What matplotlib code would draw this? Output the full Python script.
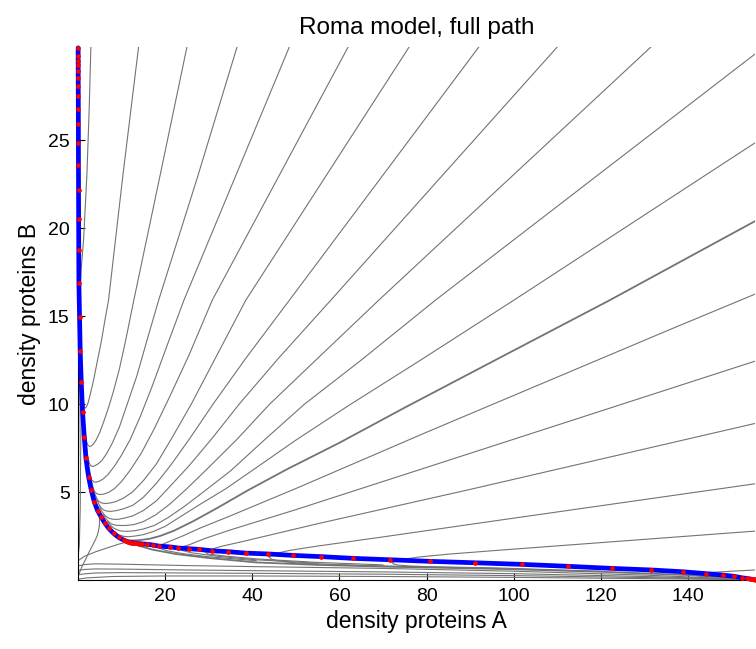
import matplotlib
matplotlib.use("Agg")
import matplotlib.pyplot as plt

plt.rcParams['font.family'] = ['Liberation Sans', 'DejaVu Sans']

# ---- transition path (string nodes) -------------------------------------
path_a = [0.03, 0.03, 0.03, 0.04, 0.04, 0.05, 0.05, 0.06, 0.07, 0.08, 0.09, 0.10,
          0.12, 0.14, 0.17, 0.20, 0.35, 0.50, 0.74, 1.04, 1.43, 1.82, 2.42, 3.04,
          3.73, 4.50, 5.28, 6.10, 7.03, 8.18, 9.33, 10.5, 11.0, 11.4, 11.8, 12.2,
          12.6, 13.0, 13.5, 14.1, 14.8, 15.9, 17.2, 18.5, 21.2, 23.0, 25.5, 27.8,
          30.8, 34.5, 38.5, 43.7, 49.3, 55.7, 63.2, 71.7, 80.9, 91.1, 101.8, 112.4,
          122.6, 131.6, 138.8, 144.2, 148.0, 150.6, 152.3, 153.5, 154.3, 154.8, 155.1,
          155.3]
path_b = [30.25, 29.8, 29.5, 29.26, 28.94, 28.56, 28.1, 27.5, 26.76, 25.9, 24.85, 23.6,
          22.16, 20.55, 18.75, 16.9, 14.96, 13.03, 11.27, 9.56, 8.14, 6.91, 5.87, 5.11,
          4.45, 3.94, 3.60, 3.26, 2.94, 2.65, 2.42, 2.27, 2.21, 2.17, 2.15, 2.13,
          2.12, 2.11, 2.09, 2.07, 2.05, 2.03, 1.99, 1.93, 1.88, 1.82, 1.78, 1.74,
          1.66, 1.61, 1.53, 1.48, 1.40, 1.33, 1.23, 1.15, 1.06, 0.98, 0.89, 0.78,
          0.66, 0.57, 0.47, 0.36, 0.28, 0.21, 0.13, 0.09, 0.06, 0.04, 0.03,
          0.02]

# ---- trajectories entering from the top edge ----------------------------
top_03 = ([2.95, 2.58, 2.05, 1.27, 0.70, 0.45, 0.30, 0.22],
          [30.3, 26.9, 23.1, 19.3, 17.6, 16.6, 15.8, 16.8])
top_14 = ([13.9, 10.3, 7.0, 6.2, 5.3, 4.4, 3.6, 2.9, 2.35, 1.95, 1.66, 1.42, 1.2, 1.02, 0.88, 0.76],
          [30.3, 23.0, 15.9, 14.8, 13.5, 12.4, 11.4, 10.65, 10.1, 9.85, 9.78, 9.85, 10.1, 10.5, 10.95, 11.5])
top_25 = ([25.0, 18.5, 12.8, 11.0, 9.5, 8.1, 7.0, 5.9, 5.0, 4.2, 3.6, 3.05, 2.6, 2.3, 2.05, 1.8, 1.6, 1.42, 1.25, 1.1],
          [30.3, 22.6, 15.9, 13.7, 12.0, 10.7, 9.8, 9.0, 8.4, 7.98, 7.75, 7.62, 7.6, 7.65, 7.8, 8.1, 8.5, 8.95, 9.5, 10.1])
top_36 = ([36.5, 27.3, 18.5, 15.8, 13.5, 11.3, 9.5, 7.9, 6.6, 5.5, 4.6, 3.9, 3.3, 2.9, 2.6, 2.3, 2.05, 1.85, 1.65],
          [30.3, 22.8, 15.9, 13.6, 11.6, 10.0, 8.7, 7.8, 7.2, 6.8, 6.6, 6.5, 6.45, 6.5, 6.65, 6.95, 7.35, 7.8, 8.3])
top_48 = ([48.5, 24.3, 20.4, 17.0, 14.3, 12.0, 10.0, 8.3, 6.9, 5.8, 4.9, 4.1, 3.6, 3.2, 2.9, 2.6, 2.35, 2.1],
          [30.3, 15.9, 13.3, 11.0, 9.3, 8.0, 7.1, 6.45, 6.0, 5.75, 5.62, 5.56, 5.58, 5.68, 5.85, 6.15, 6.55, 7.05])
top_62 = ([62.0, 30.8, 25.5, 21.0, 17.5, 14.5, 12.0, 10.0, 8.4, 7.0, 5.9, 5.0, 4.35, 3.9, 3.5, 3.15, 2.85, 2.6],
          [30.3, 15.9, 12.8, 10.4, 8.6, 7.2, 6.25, 5.6, 5.2, 4.98, 4.88, 4.86, 4.9, 5.0, 5.2, 5.5, 5.85, 6.3])
top_76 = ([76.0, 38.5, 31.5, 26.0, 21.6, 18.0, 15.0, 12.5, 10.4, 8.6, 7.2, 6.2, 5.4, 4.8, 4.3, 3.9, 3.5, 3.2],
          [30.3, 15.9, 12.6, 10.0, 8.1, 6.6, 5.65, 5.0, 4.65, 4.45, 4.37, 4.35, 4.38, 4.47, 4.62, 4.85, 5.15, 5.5])
top_92 = ([92.0, 48.5, 38.5, 31.0, 25.8, 21.5, 18.0, 15.0, 12.6, 10.5, 8.9, 7.6, 6.6, 5.9, 5.3, 4.8, 4.35, 3.95],
          [30.3, 15.9, 12.6, 10.0, 8.1, 6.6, 5.5, 4.7, 4.25, 4.05, 3.95, 3.9, 3.92, 3.98, 4.1, 4.3, 4.55, 4.85])
top_110 = ([110.0, 58.0, 46.0, 37.0, 30.6, 25.5, 21.4, 18.0, 15.0, 12.6, 10.7, 9.2, 8.1, 7.2, 6.5, 5.9, 5.35, 4.85],
           [30.3, 15.9, 12.6, 10.0, 8.0, 6.5, 5.4, 4.5, 3.95, 3.65, 3.52, 3.45, 3.45, 3.5, 3.6, 3.75, 3.95, 4.2])
top_131 = ([131.5, 69.0, 55.0, 44.0, 36.5, 30.0, 25.0, 21.0, 17.8, 15.0, 12.8, 11.0, 9.6, 8.5, 7.6, 7.0, 6.35, 5.8],
           [30.3, 15.9, 12.6, 10.0, 8.0, 6.4, 5.2, 4.3, 3.7, 3.32, 3.15, 3.1, 3.1, 3.12, 3.2, 3.32, 3.5, 3.72])

# ---- trajectories entering from the right edge --------------------------
right_30 = ([155.4, 82.0, 65.0, 52.0, 42.5, 35.0, 29.0, 24.5, 20.7, 17.5, 15.0, 13.0, 11.4, 10.0, 9.0, 8.2, 7.5, 6.8],
            [29.9, 15.9, 12.5, 10.0, 7.9, 6.2, 5.05, 4.2, 3.55, 3.1, 2.9, 2.8, 2.77, 2.78, 2.85, 2.95, 3.1, 3.3])
right_25 = ([155.4, 100.0, 78.0, 62.0, 50.0, 41.0, 34.0, 28.0, 23.5, 20.0, 17.2, 15.0, 13.1, 11.6, 10.5, 9.6, 8.8, 8.0],
            [24.85, 15.9, 12.4, 9.9, 7.95, 6.4, 5.2, 4.3, 3.6, 3.05, 2.75, 2.58, 2.5, 2.46, 2.48, 2.55, 2.65, 2.8])
right_20 = ([155.4, 122.0, 95.0, 75.0, 60.0, 48.0, 39.0, 32.0, 26.5, 22.0, 18.8, 16.5, 14.6, 13.0, 11.8, 10.9, 10.0, 9.2],
            [20.4, 15.9, 12.4, 9.8, 7.8, 6.3, 5.1, 4.1, 3.35, 2.8, 2.5, 2.35, 2.28, 2.25, 2.25, 2.3, 2.38, 2.5])
right_16 = ([155.4, 135.5, 80.0, 50.0, 35.0, 28.0, 24.0, 21.0, 19.3, 18.5, 18.8, 20.5, 24.0, 30.0, 40.9],
            [16.25, 14.2, 8.4, 5.2, 3.65, 2.95, 2.5, 2.2, 2.02, 1.92, 1.8, 1.66, 1.5, 1.32, 1.1])
right_12 = ([155.4, 80.0, 50.0, 35.0, 29.0, 25.5, 23.3, 23.6, 26.0, 32.0, 40.9, 55.0],
            [12.44, 6.4, 4.0, 2.85, 2.35, 2.0, 1.84, 1.7, 1.55, 1.35, 1.15, 0.95])
right_09 = ([155.4, 90.0, 55.0, 38.0, 33.0, 30.5, 29.2, 29.8, 33.0, 40.9, 55.0, 70.0],
            [8.9, 5.15, 3.2, 2.2, 1.92, 1.74, 1.6, 1.48, 1.38, 1.2, 1.0, 0.86])
right_05 = ([155.4, 97.0, 70.0, 55.0, 48.5, 45.3, 43.8, 44.3, 45.5, 47.5, 51.0, 54.7, 70.0, 97.0],
            [5.47, 3.41, 2.45, 1.93, 1.68, 1.5, 1.32, 1.2, 1.11, 1.03, 0.96, 0.92, 0.8, 0.65])
right_03 = ([155.4, 97.0, 85.0, 78.0, 74.0, 72.2, 72.3, 73.5, 76.0, 80.0, 97.0, 120.0],
            [2.78, 1.70, 1.47, 1.3, 1.15, 1.02, 0.92, 0.85, 0.8, 0.76, 0.68, 0.5])
right_01 = ([155.4, 150.0, 145.0, 142.0, 141.2, 142.5, 146.0, 150.0, 155.3],
            [0.57, 0.50, 0.43, 0.36, 0.30, 0.23, 0.17, 0.12, 0.02])

# ---- branch leaving the saddle toward the high-A state -------------------
saddle_a = [11.8, 14.0, 17.0, 22.4, 30.0, 40.9, 55.0, 70.0, 97.0, 120.0, 140.0, 150.0, 155.3]
saddle_b = [2.14, 1.95, 1.73, 1.48, 1.25, 1.00, 0.86, 0.76, 0.63, 0.47, 0.28, 0.15, 0.02]

# ---- trajectories starting near the origin ------------------------------
low_1 = ([0.0, 2.0, 8.0, 20.0, 40.9, 70.0, 100.0, 130.0, 155.3],
         [0.05, 0.12, 0.20, 0.23, 0.23, 0.20, 0.15, 0.08, 0.02])
low_2 = ([0.0, 1.5, 4.0, 10.0, 25.0, 40.9, 70.0, 100.0, 130.0, 155.3],
         [0.30, 0.35, 0.4, 0.42, 0.40, 0.38, 0.33, 0.25, 0.14, 0.02])
low_3 = ([0.0, 1.5, 4.0, 10.0, 25.0, 40.9, 70.0, 100.0, 130.0, 155.3],
         [0.55, 0.6, 0.63, 0.62, 0.57, 0.53, 0.46, 0.36, 0.20, 0.02])
low_4 = ([0.0, 1.5, 4.0, 10.0, 25.0, 40.9, 70.0, 100.0, 130.0, 155.3],
         [0.80, 0.88, 0.92, 0.90, 0.82, 0.76, 0.66, 0.50, 0.28, 0.02])
left_1 = ([0.0, 0.05, 0.1, 0.2, 0.3, 0.45],
          [0.7, 3.0, 6.0, 9.0, 12.0, 14.5])
left_2 = ([0.0, 0.3, 0.5, 0.6, 0.72, 0.8],
          [1.3, 2.0, 4.0, 7.0, 10.0, 11.5])
left_3 = ([0.0, 0.9, 1.7, 2.4, 3.2, 3.96, 4.45, 4.73, 4.9, 4.96, 4.75],
          [0.2, 0.76, 1.15, 1.52, 1.9, 2.27, 2.55, 2.84, 3.1, 3.41, 4.0])
left_4 = ([0.0, 1.5, 4.0, 7.0, 9.5, 11.0],
          [1.1, 1.35, 1.6, 1.85, 2.05, 2.15])

gray_lines = [top_03, top_14, top_25, top_36, top_48, top_62, top_76, top_92,
              top_110, top_131, right_30, right_25, right_16, right_12,
              right_09, right_05, right_03, right_01, low_1, low_2, low_3, low_4,
              left_1, left_2, left_3, left_4]

x_ticks = [20, 40, 60, 80, 100, 120, 140]
y_ticks = [5, 10, 15, 20, 25]

fig = plt.figure(figsize=(7.56, 6.49), dpi=100)
ax = fig.add_axes([0.1032, 0.1063, 0.8955, 0.8213])

gray = (0.45, 0.45, 0.45)
for xs, ys in gray_lines:
    ax.plot(xs, ys, color=gray, lw=0.8, solid_joinstyle='round')
ax.plot(right_20[0], right_20[1], color=gray, lw=1.3)
ax.plot(saddle_a, saddle_b, color=gray, lw=1.3)

# the path is drawn unclipped so it stays fully visible along the axes
ax.plot(path_a, path_b, color=(0, 0, 1), lw=3.4, solid_capstyle='round',
        clip_on=False, zorder=4)
ax.plot(path_a, path_b, 'o', color=(1, 0, 0), ms=3.4, mec='none',
        clip_on=False, zorder=5)

ax.set_xlim(0, 155.4)
ax.set_ylim(0, 30.3)
ax.set_xticks(x_ticks)
ax.set_yticks(y_ticks)
for side in ('top', 'right'):
    ax.spines[side].set_visible(False)
ax.tick_params(direction='in', length=5, width=0.8, labelsize=14, pad=6)
ax.set_xlabel('density proteins A', fontsize=16.5, labelpad=3)
ax.set_ylabel('density proteins B', fontsize=16.5, labelpad=5)
ax.set_title('Roma model, full path', fontsize=17.5, pad=9)

fig.savefig('out.png', dpi=100)
